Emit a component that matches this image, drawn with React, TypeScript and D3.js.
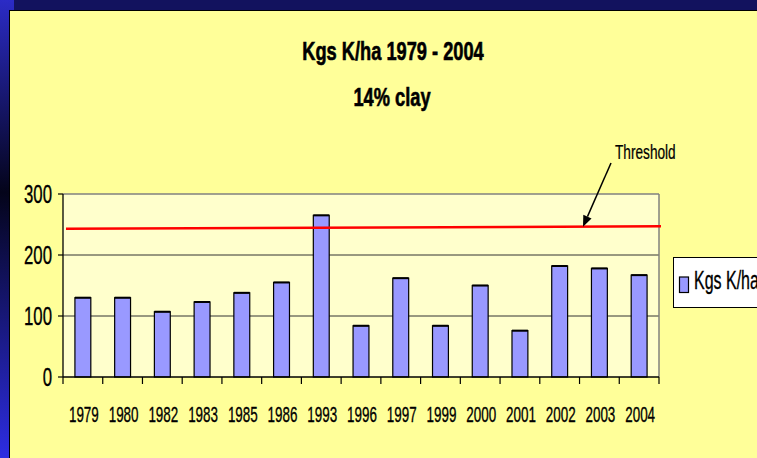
import React from "react";
import * as d3 from "d3";

const years = ["1979","1980","1982","1983","1985","1986","1993","1996","1997","1999","2000","2001","2002","2003","2004"];
const kgsK = [130,130,107,123,138,155,265,84,162,84,150,76,182,178,167];
const thresholdEnds = [243, 247];
const yTicks = [0, 100, 200, 300];
const titleLines = ["Kgs K/ha 1979 - 2004", "14% clay"];
const seriesName = "Kgs K/ha";
const thresholdLabel = "Threshold";

const W = 757, H = 458;
const FONT = "'Liberation Sans', Arial, sans-serif";

function T({ x, y, sx = 1, size, bold = false, anchor = "start", weight = 0.35, children }: any) {
  return (
    <text
      transform={`translate(${x},${y}) scale(${sx},1)`}
      fontFamily={FONT}
      fontSize={size}
      fontWeight={bold ? "bold" : "normal"}
      textAnchor={anchor}
      fill="#000"
      stroke="#000"
      strokeWidth={weight}
    >
      {children}
    </text>
  );
}

export default function App() {
  const plot = { left: 63, right: 659, top: 194, bottom: 377 };
  const x = d3.scaleBand<string>().domain(years).range([plot.left, plot.right]).paddingInner(0.6).paddingOuter(0.3);
  const y = d3.scaleLinear().domain([0, 300]).range([plot.bottom, plot.top]);
  const step = x.step();
  const boundaries = d3.range(years.length + 1).map((i) => plot.left + i * step);

  const thX0 = plot.left + 3, thX1 = plot.right + 2;
  const thY = d3.scaleLinear().domain([thX0, thX1]).range([y(thresholdEnds[0]), y(thresholdEnds[1])]);
  const arrowTipX = 583;
  const arrowTip = [arrowTipX, thY(arrowTipX)];
  const arrowTail = [611, 163];
  const ang = Math.atan2(arrowTip[1] - arrowTail[1], arrowTip[0] - arrowTail[0]);
  const hl = 11, hw = 4.5;
  const bx = arrowTip[0] - hl * Math.cos(ang), by = arrowTip[1] - hl * Math.sin(ang);
  const head = [
    arrowTip,
    [bx + hw * Math.sin(ang), by - hw * Math.cos(ang)],
    [bx - hw * Math.sin(ang), by + hw * Math.cos(ang)],
  ];

  return (
    <div style={{ position: "fixed", left: 0, top: 0, width: W, height: H }}>
      <svg width={W} height={H} style={{ display: "block" }}>
        <defs>
          <linearGradient id="leftStrip" x1="0" y1="0" x2="0" y2="1">
            <stop offset="0" stopColor="#2b2bc6" />
            <stop offset="0.42" stopColor="#04041a" />
            <stop offset="1" stopColor="#2d2de2" />
          </linearGradient>
        </defs>
        <rect x={0} y={0} width={W} height={H} fill="url(#leftStrip)" />
        <rect x={14} y={0} width={W - 14} height={10} fill="#12125e" />
        <rect x={9} y={10} width={W - 9} height={H - 10} fill="#000" />
        <rect x={10} y={11} width={W - 10} height={H - 11} fill="#ffff99" />

        {/* Title */}
        <T x={393} y={60} size={25} bold sx={0.73} weight={0.6} anchor="middle">{titleLines[0]}</T>
        <T x={392} y={106} size={25} bold sx={0.73} weight={0.6} anchor="middle">{titleLines[1]}</T>

        {/* plot area */}
        <rect x={plot.left} y={plot.top} width={plot.right - plot.left} height={plot.bottom - plot.top} fill="#ffffcc" />
        {yTicks.filter((t) => t > 0 && t < 300).map((t) => (
          <line key={t} x1={plot.left} x2={plot.right} y1={y(t)} y2={y(t)} stroke="#333" strokeWidth={1} />
        ))}
        <line x1={plot.left} x2={plot.right} y1={y(300)} y2={y(300)} stroke="#808080" strokeWidth={1.5} />
        <line x1={plot.right} x2={plot.right} y1={plot.top} y2={plot.bottom} stroke="#808080" strokeWidth={1.5} />

        {/* bars */}
        {years.map((yr, i) => (
          <g key={yr}>
            <rect x={x(yr)} y={y(kgsK[i])} width={x.bandwidth()} height={y(0) - y(kgsK[i])} fill="#9999ff" stroke="#000" strokeWidth={1.2} />
            <line x1={x(yr)} x2={(x(yr) as number) + x.bandwidth()} y1={y(kgsK[i])} y2={y(kgsK[i])} stroke="#000" strokeWidth={2} />
          </g>
        ))}

        {/* axes */}
        <line x1={plot.left} x2={plot.left} y1={plot.top} y2={plot.bottom} stroke="#000" strokeWidth={1.3} />
        <line x1={plot.left} x2={plot.right} y1={plot.bottom} y2={plot.bottom} stroke="#000" strokeWidth={1.3} />
        {yTicks.map((t) => (
          <g key={t}>
            <line x1={plot.left - 5} x2={plot.left} y1={y(t)} y2={y(t)} stroke="#000" strokeWidth={1.2} />
            <T x={52} y={y(t) + 9} size={26} sx={0.645} anchor="end">{t}</T>
          </g>
        ))}
        {boundaries.map((bx2, i) => (
          <line key={i} x1={bx2} x2={bx2} y1={plot.bottom} y2={plot.bottom + 7} stroke="#000" strokeWidth={1.2} />
        ))}
        {years.map((yr) => (
          <T key={yr} x={(x(yr) as number) + x.bandwidth() / 2 + 1} y={422} size={22} sx={0.61} anchor="middle">{yr}</T>
        ))}

        {/* threshold */}
        <line x1={thX0} x2={thX1} y1={thY(thX0)} y2={thY(thX1)} stroke="#ff0000" strokeWidth={2.5} />
        <line x1={arrowTail[0]} y1={arrowTail[1]} x2={bx} y2={by} stroke="#000" strokeWidth={1.5} />
        <polygon points={head.map((p) => p.join(",")).join(" ")} fill="#000" />
        <T x={615} y={159} size={21} sx={0.65} weight={0.25}>{thresholdLabel}</T>

        {/* legend */}
        <rect x={673.5} y={257.5} width={100} height={50} fill="#fff" stroke="#000" strokeWidth={1} />
        <rect x={679.5} y={277} width={9} height={15.5} fill="#9999ff" stroke="#000" strokeWidth={1.2} />
        <T x={694} y={289} size={25} sx={0.64}>{seriesName}</T>
      </svg>
    </div>
  );
}
